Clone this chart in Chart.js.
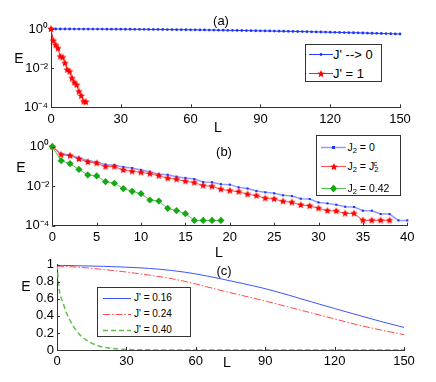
<!DOCTYPE html>
<html>
<head>
<meta charset="utf-8">
<script src="https://cdn.jsdelivr.net/npm/chart.js@4.4.0/dist/chart.umd.min.js"></script>
<style>
  body { margin: 0; background: #fff; font-family: "Liberation Sans", Arial, sans-serif; }
  #wrap { position: relative; width: 436px; height: 382px; overflow: hidden; }
  #wrap > canvas { position: absolute; left: 0; }
  .lbl { position: absolute; font-size: 14px; color: #000; line-height: 1; transform: translate(-50%, -50%); white-space: nowrap; }
  .leg { position: absolute; box-sizing: border-box; border: 1px solid #333; background: #fff; }
  .leg canvas { position: absolute; }
  .leg span { position: absolute; white-space: nowrap; line-height: 1; transform: translateY(-50%); color: #000; }
  sub, sup { font-size: 72%; line-height: 0; }
  sub { vertical-align: -0.3em; }
  sup { vertical-align: 0.5em; }
</style>
</head>
<body>
<div id="wrap">
  <canvas id="ca" width="436" height="132" style="top:0"></canvas>
  <canvas id="cb" width="436" height="122" style="top:132px"></canvas>
  <canvas id="cc" width="436" height="128" style="top:254px"></canvas>

  <div class="lbl" style="left:221px;top:20px;font-size:13px">(a)</div>
  <div class="lbl" style="left:224px;top:151px;font-size:13px">(b)</div>
  <div class="lbl" style="left:224px;top:270px;font-size:13px">(c)</div>
  <div class="lbl" style="left:19px;top:58px">E</div>
  <div class="lbl" style="left:21px;top:167px">E</div>
  <div class="lbl" style="left:26px;top:286px">E</div>
  <div class="lbl" style="left:218px;top:127px">L</div>
  <div class="lbl" style="left:219px;top:252px">L</div>
  <div class="lbl" style="left:227px;top:362px">L</div>

  <div class="leg" id="lega" style="left:305px;top:44px;width:77px;height:38px;font-size:13px"></div>
  <div class="leg" id="legb" style="left:316px;top:135px;width:85px;height:61px;font-size:10.5px"></div>
  <div class="leg" id="legc" style="left:97px;top:287px;width:94px;height:50px;font-size:10px"></div>
</div>
<script>
// panel (a): J' --> 0 and J' = 1
const aBlueL = [0,2,4,6,8,10,12,14,16,18,20,22,24,26,28,30,32,34,36,38,40,42,44,46,48,50,52,54,56,58,60,62,64,66,68,70,72,74,76,78,80,82,84,86,88,90,92,94,96,98,100,102,104,106,108,110,112,114,116,118,120,122,124,126,128,130,132,134,136,138,140,142,144,146,148,150];
const aBlueE = [1.000,1.000,1.000,0.999,0.998,0.997,0.996,0.995,0.993,0.992,0.990,0.987,0.985,0.982,0.980,0.977,0.973,0.970,0.967,0.963,0.959,0.955,0.951,0.946,0.942,0.937,0.932,0.927,0.921,0.916,0.910,0.904,0.898,0.892,0.886,0.880,0.873,0.866,0.860,0.853,0.846,0.839,0.831,0.824,0.816,0.809,0.801,0.793,0.786,0.777,0.769,0.761,0.753,0.745,0.737,0.728,0.720,0.711,0.703,0.694,0.686,0.677,0.668,0.660,0.651,0.642,0.634,0.625,0.616,0.607,0.598,0.590,0.581,0.572,0.563,0.555];
const aRedL = [0,1,2,3,4,5,6,7,8,9,10,11,12,13,14,15];
const aRedE = [1,0.251,0.151,0.102,0.0389,0.0355,0.0178,0.00813,0.00661,0.00302,0.00186,0.00138,0.000631,0.00038,0.000195,0.000186];

// panel (b): J2 = 0, J2 = J2c, J2 = 0.42
const bL = [0,1,2,3,4,5,6,7,8,9,10,11,12,13,14,15,16,17,18,19,20,21,22,23,24,25,26,27,28,29,30,31,32,33,34,35,36,37,38,39,40];
const bBlueE = [1,0.427,0.380,0.275,0.195,0.170,0.123,0.115,0.0933,0.0832,0.0661,0.0537,0.0398,0.0380,0.0302,0.0263,0.0229,0.0162,0.0158,0.0126,0.0120,0.00871,0.00759,0.00575,0.0049,0.00437,0.00347,0.00316,0.00234,0.00224,0.00151,0.00135,0.00115,0.000912,0.000891,0.000575,0.000575,0.000389,0.000389,0.000186,0.000186];
const bRedE = [1,0.394,0.350,0.240,0.168,0.145,0.0977,0.0977,0.0661,0.0562,0.0501,0.0427,0.0339,0.0251,0.0224,0.0178,0.0151,0.0107,0.00977,0.00692,0.00589,0.00525,0.00389,0.00331,0.00245,0.00224,0.0017,0.00151,0.00112,0.001,0.000759,0.000575,0.00055,0.000417,0.000417,0.000186,0.000186,0.000186,0.000186];
const bGreenE = [1,0.195,0.138,0.0708,0.0372,0.0331,0.0170,0.0141,0.00759,0.0055,0.00417,0.002,0.00178,0.000759,0.000575,0.000407,0.000186,0.000186,0.000186,0.000186];

// panel (c): J' = 0.16, 0.24, 0.40
const cL = [0,10,20,30,40,50,60,70,80,90,100,110,120,130,140,150];
const cBlueE = [0.995,0.988,0.982,0.972,0.957,0.932,0.893,0.840,0.782,0.720,0.645,0.565,0.487,0.410,0.335,0.265];
const cRedE = [0.985,0.970,0.945,0.915,0.878,0.835,0.775,0.705,0.640,0.575,0.505,0.435,0.365,0.295,0.235,0.180];
const cGreenL = [0,1,2,3,4,5,6,7,8,9,10,12,14,16,18,20,23,26,30,35,40,50,60,70,80,90,100,110,120,130,140,150];
const cGreenE = [1.0,0.70,0.60,0.52,0.44,0.38,0.33,0.28,0.24,0.205,0.175,0.13,0.095,0.068,0.048,0.034,0.021,0.013,0.007,0.003,0.0015,0,0,0,0,0,0,0,0,0,0,0];

const logTicks = [0.0001, 0.01, 1];
const logTickLabels = ['10\u207B\u2074', '10\u207B\u00B2', '10\u2070'];
const linTicks = [0, 0.2, 0.4, 0.6, 0.8, 1];
const linTickLabels = ['0', '0.2', '0.4', '0.6', '0.8', '1'];

const pts = (xs, ys) => ys.map((y, i) => ({ x: xs[i], y }));

function starImg(color, r) {
  const c = document.createElement('canvas');
  const s = Math.ceil(r * 2 + 2);
  c.width = s; c.height = s;
  const g = c.getContext('2d');
  g.fillStyle = color;
  g.beginPath();
  for (let i = 0; i < 10; i++) {
    const rad = i % 2 ? r * 0.45 : r;
    const a = -Math.PI / 2 + i * Math.PI / 5;
    g.lineTo(s / 2 + rad * Math.cos(a), s / 2 + rad * Math.sin(a));
  }
  g.closePath();
  g.fill();
  return c;
}
const redStar = starImg('#ff0000', 4);

// small tick marks pointing into the plot, like matlab
const innerTicks = {
  id: 'innerTicks',
  afterDraw(chart) {
    const { ctx, chartArea, scales } = chart;
    ctx.save();
    ctx.strokeStyle = '#333';
    ctx.lineWidth = 1;
    scales.x.ticks.forEach(t => {
      const px = Math.round(scales.x.getPixelForValue(t.value)) + 0.5;
      ctx.beginPath(); ctx.moveTo(px, chartArea.bottom); ctx.lineTo(px, chartArea.bottom - 3); ctx.stroke();
    });
    scales.y.ticks.forEach(t => {
      const py = Math.round(scales.y.getPixelForValue(t.value)) + 0.5;
      ctx.beginPath(); ctx.moveTo(chartArea.left, py); ctx.lineTo(chartArea.left + 3, py); ctx.stroke();
    });
    ctx.restore();
  }
};

const tickFont = { family: '"Liberation Sans", Arial, sans-serif', size: 13 };

function makeChart(id, h, area, datasets, xOpt, yOpt) {
  return new Chart(document.getElementById(id), {
    type: 'line',
    data: { datasets },
    options: {
      responsive: false,
      animation: false,
      devicePixelRatio: 1,
      layout: { padding: { left: 0, top: area.top, right: 436 - area.right, bottom: 0 } },
      plugins: { legend: { display: false }, tooltip: { enabled: false } },
      scales: {
        x: Object.assign({
          type: 'linear',
          grid: { display: false, drawTicks: false },
          border: { display: true, color: '#333', width: 1 },
          afterFit: s => { s.height = h - area.bottom; }
        }, xOpt),
        y: Object.assign({
          grid: { display: false, drawTicks: false },
          border: { display: true, color: '#333', width: 1 },
          afterFit: s => { s.width = area.left; }
        }, yOpt)
      }
    },
    plugins: [innerTicks]
  });
}

const xTicks = step => ({ font: tickFont, color: '#000', padding: 4, maxRotation: 0, autoSkip: false, stepSize: step });

const logY = {
  type: 'logarithmic', min: 0.0001, max: 1,
  afterBuildTicks: s => { s.ticks = logTicks.map(v => ({ value: v })); },
  ticks: { font: tickFont, color: '#000', padding: 3, autoSkip: false, callback: (v, i) => logTickLabels[i] }
};

// (a)
makeChart('ca', 132, { left: 51, right: 400, top: 29, bottom: 107.3 }, [
  { data: pts(aRedL, aRedE), borderColor: '#ff2020', borderWidth: 1, pointStyle: redStar, pointRadius: 4, clip: false },
  { data: pts(aBlueL, aBlueE), borderColor: '#2a3cff', borderWidth: 1, pointStyle: 'circle', pointRadius: 1.4,
    pointBackgroundColor: '#1f35ff', pointBorderWidth: 0, clip: false }
], { min: 0, max: 150, ticks: xTicks(30) }, logY);

// (b)
makeChart('cb', 122, { left: 52.3, right: 407.3, top: 14.7, bottom: 93.7 }, [
  { data: pts(bL, bGreenE), borderColor: '#55c455', borderWidth: 1, pointStyle: 'rectRot', pointRadius: 3.6,
    pointBackgroundColor: '#14a814', pointBorderColor: '#14a814', pointBorderWidth: 0, clip: false },
  { data: pts(bL, bRedE), borderColor: '#ff5050', borderWidth: 1, pointStyle: redStar, pointRadius: 4, clip: false },
  { data: pts(bL, bBlueE), borderColor: '#8c9cff', borderWidth: 1.5, pointStyle: 'rect', pointRadius: 1.5,
    pointBackgroundColor: '#1f35ff', pointBorderWidth: 0, clip: false }
], { min: 0, max: 40, ticks: xTicks(5) }, logY);

// (c)
makeChart('cc', 128, { left: 57, right: 404, top: 8.3, bottom: 96 }, [
  { data: pts(cGreenL, cGreenE), borderColor: '#5fc04a', borderWidth: 1.5, borderDash: [5, 3], pointRadius: 0, cubicInterpolationMode: 'monotone' },
  { data: pts(cL, cRedE), borderColor: '#ff4a4a', borderWidth: 1, borderDash: [7, 2, 1.5, 2], pointRadius: 0, cubicInterpolationMode: 'monotone' },
  { data: pts(cL, cBlueE), borderColor: '#3a55ff', borderWidth: 1, pointRadius: 0, cubicInterpolationMode: 'monotone' }
], { min: 0, max: 150, ticks: xTicks(30) }, {
  type: 'linear', min: 0, max: 1,
  afterBuildTicks: s => { s.ticks = linTicks.map(v => ({ value: v })); },
  ticks: { font: tickFont, color: '#000', padding: 3, autoSkip: false, callback: (v, i) => linTickLabels[i] }
});

// legends: sample line + marker drawn on a small canvas, text as html
function legendRow(box, y, x0, w, textX, html, st) {
  const c = document.createElement('canvas');
  c.width = w; c.height = 12;
  c.style.left = x0 + 'px';
  c.style.top = (y - 6) + 'px';
  const g = c.getContext('2d');
  g.strokeStyle = st.color;
  g.lineWidth = st.lw || 1;
  if (st.dash) g.setLineDash(st.dash);
  g.beginPath(); g.moveTo(0, 6.5); g.lineTo(w, 6.5); g.stroke();
  g.setLineDash([]);
  const cx = w / 2;
  g.fillStyle = st.mcolor || st.color;
  if (st.marker === 'star') g.drawImage(redStar, Math.round(cx - redStar.width / 2), Math.round(6.5 - redStar.height / 2));
  if (st.marker === 'dot') { g.beginPath(); g.arc(cx, 6.5, 1.4, 0, Math.PI * 2); g.fill(); }
  if (st.marker === 'rect') g.fillRect(cx - 1.5, 5, 3, 3);
  if (st.marker === 'diamond') { g.beginPath(); g.moveTo(cx, 2.5); g.lineTo(cx + 3.6, 6.5); g.lineTo(cx, 10.5); g.lineTo(cx - 3.6, 6.5); g.closePath(); g.fill(); }
  box.appendChild(c);
  const s = document.createElement('span');
  s.innerHTML = html;
  s.style.left = textX + 'px';
  s.style.top = y + 'px';
  box.appendChild(s);
}

const la = document.getElementById('lega');
legendRow(la, 9.3, 2.5, 24, 27, "J' --&gt; 0", { color: '#2a3cff', marker: 'dot', mcolor: '#1f35ff' });
legendRow(la, 27.7, 2.5, 24, 27, "J' = 1", { color: '#ff2020', marker: 'star' });

const lb = document.getElementById('legb');
legendRow(lb, 11, 3.5, 25, 30.5, 'J<sub>2</sub> = 0', { color: '#8c9cff', lw: 1.5, marker: 'rect', mcolor: '#1f35ff' });
legendRow(lb, 30, 3.5, 25, 30.5, 'J<sub>2</sub> = J<sub>2</sub><sup style="margin-left:-5px">c</sup>', { color: '#ff5050', marker: 'star' });
legendRow(lb, 51.5, 3.5, 25, 30.5, 'J<sub>2</sub> = 0.42', { color: '#55c455', marker: 'diamond', mcolor: '#14a814' });

const lc = document.getElementById('legc');
legendRow(lc, 10, 4.5, 28, 36, "J' = 0.16", { color: '#3a55ff' });
legendRow(lc, 25.5, 4.5, 28, 36, "J' = 0.24", { color: '#ff4a4a', dash: [7, 2, 1.5, 2] });
legendRow(lc, 41.5, 4.5, 28, 36, "J' = 0.40", { color: '#5fc04a', lw: 1.5, dash: [5, 3] });
</script>
</body>
</html>
